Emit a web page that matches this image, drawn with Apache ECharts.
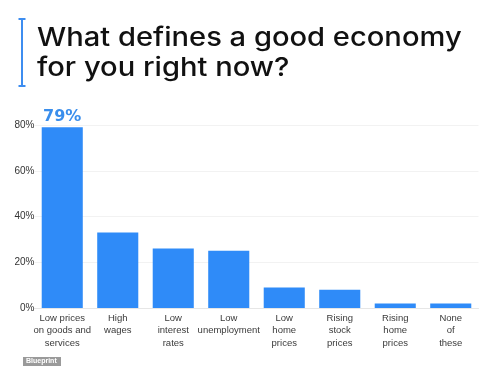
<!DOCTYPE html>
<html><head><meta charset="utf-8">
<script src="https://cdn.jsdelivr.net/npm/echarts@6/dist/echarts.min.js"></script>
<style>html,body{margin:0;padding:0;background:#fff}#c{width:500px;height:379px}</style>
</head><body><div id="c"></div>
<script>
const categories = ["Low prices\non goods and\nservices","High\nwages","Low\ninterest\nrates","Low\nunemployment","Low\nhome\nprices","Rising\nstock\nprices","Rising\nhome\nprices","None\nof\nthese"];
const values = [79, 33, 26, 25, 9, 8, 2, 2];
const yTicks = [0, 20, 40, 60, 80];
const titleText = "What defines a good economy\nfor you right now?";

const chart = echarts.init(document.getElementById('c'), null, {renderer:'canvas'});
chart.setOption({
  animation:false,
  backgroundColor:'#fff',
  grid:{left:34.5, right:21.5, top:125, bottom:71, containLabel:false},
  xAxis:{type:'category', data:categories,
    axisLine:{show:true, lineStyle:{color:'#e6e6e6'}}, axisTick:{show:false},
    axisLabel:{interval:0, color:'#3a3a3a', fontSize:9.5, fontFamily:'Liberation Sans', lineHeight:12.5, margin:4}},
  yAxis:{type:'value', min:yTicks[0], max:yTicks[yTicks.length-1], interval:20,
    axisLine:{show:false}, axisTick:{show:false},
    splitLine:{lineStyle:{color:'#f2f2f2'}},
    axisLabel:{formatter:'{value}%', color:'#333', fontSize:10, fontFamily:'Liberation Sans', margin:0}},
  series:[{type:'bar', data:values.map((v,i)=>i===0?{value:v,label:{show:true}}:v),
    barCategoryGap:'26%', itemStyle:{color:'#2f8bf8'},
    label:{show:false, position:'top', distance:2, formatter:'{c}%', color:'#3a8eec', fontSize:16, fontWeight:'bold', fontFamily:'DejaVu Sans'}}],
  graphic:[
    {type:'line', shape:{x1:22,y1:19,x2:22,y2:86}, style:{stroke:'#3d8df0', lineWidth:2}},
    {type:'line', shape:{x1:18.5,y1:19,x2:25.5,y2:19}, style:{stroke:'#3d8df0', lineWidth:2}},
    {type:'line', shape:{x1:18.5,y1:86,x2:25.5,y2:86}, style:{stroke:'#3d8df0', lineWidth:2}},
    {type:'text', x:37, y:23.5, scaleX:1.12, style:{text:titleText, fill:'#111', font:'500 26px Inter', lineHeight:30}},
    {type:'rect', shape:{x:23,y:357,width:38,height:9}, style:{fill:'#9a9a9a'}},
    {type:'text', x:26, y:358, style:{text:'Blueprint', fill:'#fff', font:'bold 7px Liberation Sans'}}
  ]
});
</script></body></html>
